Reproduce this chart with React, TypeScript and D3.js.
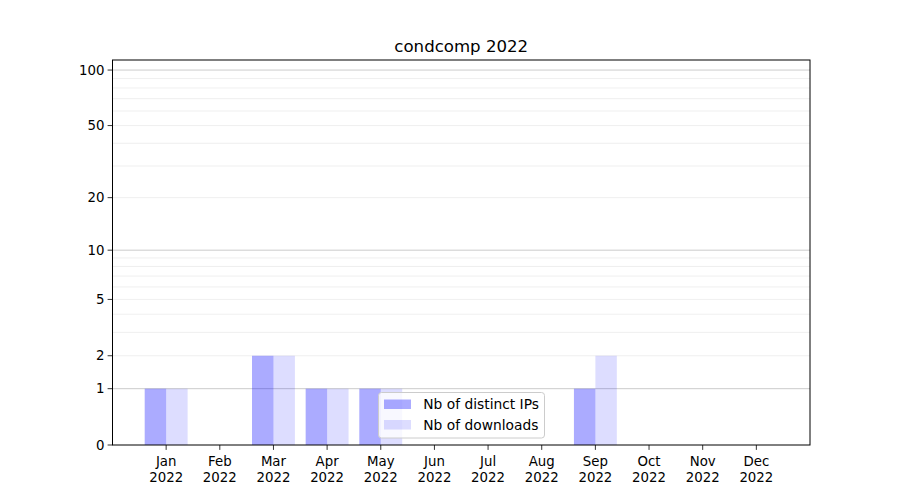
import React from "react";
import * as d3 from "d3";

const months = ["Jan", "Feb", "Mar", "Apr", "May", "Jun", "Jul", "Aug", "Sep", "Oct", "Nov", "Dec"];
const year = "2022";
const distinctIPs = [1, 0, 2, 1, 1, 0, 0, 0, 1, 0, 0, 0];
const downloads = [1, 0, 2, 1, 1, 0, 0, 0, 2, 0, 0, 0];
const yTicks = [0, 1, 2, 5, 10, 20, 50, 100];
const majorGrid = [1, 10, 100];
const minorGrid = [2, 3, 4, 5, 6, 7, 8, 9, 20, 30, 40, 50, 60, 70, 80, 90];
const title = "condcomp 2022";
const seriesNames = ["Nb of distinct IPs", "Nb of downloads"];

const W = 900, H = 500;
const L = 112.5, R = 810, T = 60, B = 445;
const FONT = "DejaVu Sans, sans-serif";

export default function App() {
  const x = d3.scaleLinear().domain([-1, months.length]).range([L, R]);
  const y = d3.scaleSymlog().constant(1).domain([0, 113.3]).range([B, T]);
  const bw = x(0.4) - x(0);
  return (
    <svg width={W} height={H} style={{ display: "block", position: "absolute", left: 0, top: 0 }} fontFamily={FONT}>
      <rect x={0} y={0} width={W} height={H} fill="#fff" />
      {minorGrid.map((v) => (
        <line key={"mi" + v} x1={L} x2={R} y1={y(v)} y2={y(v)} stroke="#ebebeb" strokeWidth={0.8} />
      ))}
      {majorGrid.map((v) => (
        <line key={"ma" + v} x1={L} x2={R} y1={y(v)} y2={y(v)} stroke="#cccccc" strokeWidth={1} />
      ))}
      {distinctIPs.map((v, i) =>
        v > 0 ? (
          <rect key={"a" + i} x={x(i) - bw} y={y(v)} width={bw} height={B - y(v)} fill="#0000ff" fillOpacity={0.33} />
        ) : null
      )}
      {downloads.map((v, i) =>
        v > 0 ? (
          <rect key={"b" + i} x={x(i)} y={y(v)} width={bw} height={B - y(v)} fill="#0000ff" fillOpacity={0.133} />
        ) : null
      )}
      <rect x={L} y={T} width={R - L} height={B - T} fill="none" stroke="#000" strokeWidth={1} />
      {yTicks.map((v) => (
        <g key={"yt" + v}>
          <line x1={L - 4.9} x2={L} y1={y(v)} y2={y(v)} stroke="#000" strokeWidth={0.8} />
          <text x={L - 8} y={y(v)} dy="0.35em" textAnchor="end" fontSize={13.33}>{v}</text>
        </g>
      ))}
      {months.map((m, i) => (
        <g key={"xt" + i}>
          <line x1={x(i)} x2={x(i)} y1={B} y2={B + 4.9} stroke="#000" strokeWidth={0.8} />
          <text x={x(i)} y={B + 21} textAnchor="middle" fontSize={13.33}>{m}</text>
          <text x={x(i)} y={B + 37} textAnchor="middle" fontSize={13.33}>{year}</text>
        </g>
      ))}
      <text x={(L + R) / 2} y={51.5} textAnchor="middle" fontSize={16.6}>{title}</text>
      <g>
        <rect x={378.5} y={392.5} width={166} height={45.5} rx={3} fill="#fff" fillOpacity={0.8} stroke="#cccccc" strokeWidth={1} />
        {seriesNames.map((n, i) => (
          <g key={"lg" + i}>
            <rect x={384} y={399.5 + i * 20.5} width={27} height={9.5} fill="#0000ff" fillOpacity={i === 0 ? 0.33 : 0.133} />
            <text x={423.3} y={404.5 + i * 20.5} dy="0.35em" fontSize={13.8}>{n}</text>
          </g>
        ))}
      </g>
    </svg>
  );
}
